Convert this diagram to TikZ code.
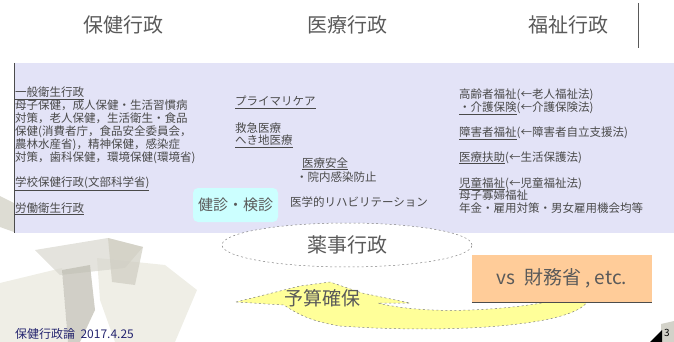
\documentclass[tikz,border=0pt]{standalone}
\usepackage{fontspec}
\setmainfont{Noto Sans CJK JP}
\usetikzlibrary{shapes.geometric}
\definecolor{lav}{HTML}{E3E3F7}
\definecolor{txtgray}{HTML}{4A4A4A}
\definecolor{titlegray}{HTML}{5A5A5A}
\definecolor{cyanbox}{HTML}{CCFFFF}
\definecolor{orangebox}{HTML}{FFCC99}
\definecolor{yellowarrow}{HTML}{FFFF99}
\definecolor{navy}{HTML}{262670}
\definecolor{cubelight}{HTML}{E8E7DC}
\definecolor{cubemid}{HTML}{CFCDC1}
\definecolor{cubedark}{HTML}{BDBBAF}
\tikzset{
  titletext/.style={text=titlegray,font=\fontsize{20}{24}\selectfont,inner sep=0pt},
  smalltext/.style={text=txtgray,font=\fontsize{11.5}{13}\selectfont,inner sep=0pt,anchor=base west},
  dotline/.style={draw=gray,line width=0.5pt,dash pattern=on 2pt off 2.5pt},
  cube/.style={fill opacity=0.7}
}
\begin{document}
\begin{tikzpicture}[x=1pt,y=-1pt]
\useasboundingbox (0,0) rectangle (674,342);
% cubes in the background
\fill[cube,cubelight] (0,283)--(62,268)--(68,342)--(0,342)--cycle;
\fill[cube,cubelight] (97,258)--(165,265)--(197,290)--(175,342)--(115,342)--(100,300)--cycle;
\fill[cube,cubelight!85!gray] (35,250)--(108,238)--(143,247)--(125,268)--(60,275)--cycle;
\fill[cube,cubemid] (108,238)--(143,247)--(135,285)--(112,282)--cycle;
\fill[cube,cubedark] (62,270)--(90,265)--(95,310)--(80,342)--(68,342)--cycle;
\fill[cube,cubemid] (0,196)--(14,203)--(14,232)--(0,227)--cycle;
% headings
\node[titletext] (hoken) at (123,25) {保健行政};
\node[titletext] (iryo) at (347,25) {医療行政};
\node[titletext] (fukushi) at (568,25) {福祉行政};
\draw[gray!70!black] (638,3)--(638,48);
% panel
\fill[lav] (14,63) rectangle (674,233);
\draw[black!70] (14,63)--(14,233);
% hoken column
\foreach \txt [count=\i] in {{\underline{一般衛生行政}},母子保健，成人保健・生活習慣病,対策，老人保健，生活衛生・食品,保健(消費者庁，食品安全委員会，,農林水産省)，精神保健，感染症,対策，歯科保健，環境保健(環境省)}
  \node[smalltext] (ippan\i) at (15,84.2+12.8*\i) {\txt};
\node[smalltext] (gakko) at (15,186.5) {\underline{学校保健行政(文部科学省)}};
\node[smalltext] (rodo) at (15,212) {\underline{労働衛生行政}};
% iryo column
\node[smalltext] (primary) at (235,106) {\underline{プライマリケア}};
\node[smalltext] (kyukyu) at (235,132) {救急医療};
\node[smalltext] (hekichi) at (235,144.5) {\underline{へき地医療}};
\node[smalltext] (anzen) at (302,167) {\underline{医療安全}};
\node[smalltext] (innai) at (296,181) {・院内感染防止};
\node[smalltext] (reha) at (290,206) {医学的リハビリテーション};
\node[fill=cyanbox,rounded corners=5pt,minimum width=85pt,minimum height=34pt,inner sep=0pt,
  text=titlegray,font=\fontsize{15}{18}\selectfont] (kenshin) at (235.5,205) {健診・検診};
% fukushi column
\foreach \yy/\txt [count=\i] in {98.5/高齢者福祉(←老人福祉法),111.5/{\underline{・介護保険}(←介護保険法)},
  136.5/{\underline{障害者福祉}(←障害者自立支援法)},161/{\underline{医療扶助}(←生活保護法)},
  187/{\underline{児童福祉}(←児童福祉法)},199.5/母子寡婦福祉,212/年金・雇用対策・男女雇用機会均等}
  \node[smalltext] (fuku\i) at (459,\yy) {\txt};
% yakuji
\node[ellipse,dotline,fill=white,minimum width=250pt,minimum height=44pt,titletext] (yakuji) at (347,245) {薬事行政};
% curved arrow
\draw[dotline,fill=yellowarrow] (236,302)--(300,286)--(330,282)--(362,293)--(410,303)--(378,303)
  .. controls (420,314) and (500,313) .. (568,298)--(588,300)
  .. controls (578,326) and (450,334) .. (340,326)
  .. controls (315,322) and (300,316) .. (284,305)--cycle;
\node[titletext,font=\fontsize{19}{22}\selectfont] (yosan) at (322,298) {予算確保};
% zaimu
\node[fill=orangebox,minimum width=180pt,minimum height=47pt,inner sep=0pt,titletext,
  font=\fontsize{19}{22}\selectfont] (zaimu) at (562,278) {vs\ \ 財務省 , etc.};
\draw[black!70] (zaimu.south west)--(zaimu.south east);
% footer
\node[anchor=base west,text=navy,font=\fontsize{12}{14}\selectfont,inner sep=0pt] (footer) at (15,338) {保健行政論\ \ 2017.4.25};
\fill[cubelight!80!gray] (661,324)--(674,321)--(674,342)--(661,342)--cycle;
\fill (650,342)--(662,330)--(662,342)--cycle;
\node[font=\fontsize{10}{12}\selectfont,inner sep=0pt] (pageno) at (667,333) {3};
\end{tikzpicture}
\end{document}
